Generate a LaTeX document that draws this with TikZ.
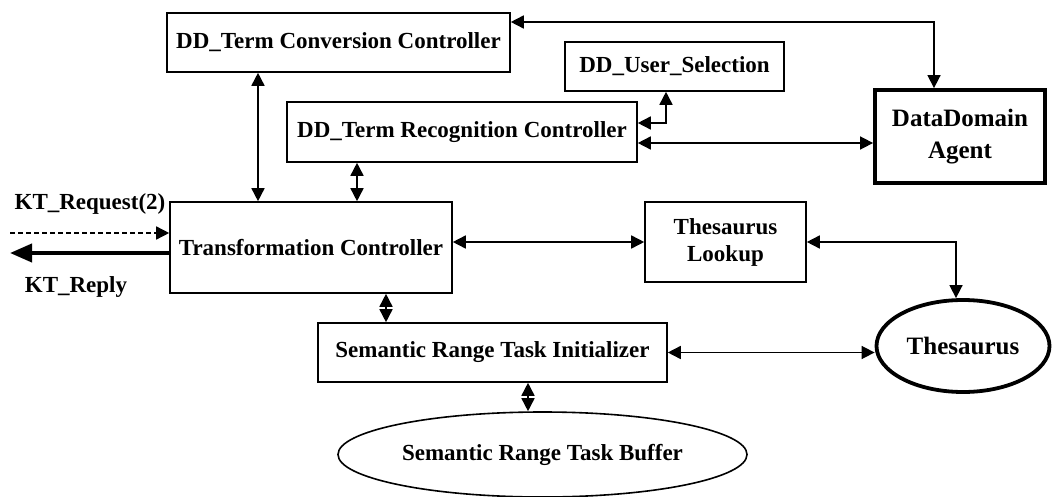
\documentclass[tikz,border=0pt]{standalone}
\usepackage{fontspec}
\setmainfont{Liberation Serif}
\usetikzlibrary{positioning,arrows.meta,shapes.geometric}
\tikzset{
  blk/.style={rectangle,draw,line width=1.6pt,inner sep=0pt,align=center,font=\bfseries\fontsize{23}{27}\selectfont},
  hblk/.style={blk,line width=3.8pt,font=\bfseries\fontsize{25}{32}\selectfont},
  store/.style={ellipse,draw,line width=1.6pt,inner sep=0pt,font=\bfseries\fontsize{23}{27}\selectfont},
  hstore/.style={store,line width=3.8pt,font=\bfseries\fontsize{25}{30}\selectfont},
  lbl/.style={inner sep=0pt,font=\bfseries\fontsize{23}{27}\selectfont},
  link/.style={{Triangle[length=13pt,width=13pt]}-{Triangle[length=13pt,width=13pt]},line width=1.6pt},
  req/.style={-{Triangle[length=13pt,width=13pt]},line width=1.5pt,dash pattern=on 5pt off 3pt},
  reply/.style={-{Triangle[length=22pt,width=18pt]},line width=4pt}
}

\begin{document}
\begin{tikzpicture}[x=1pt,y=-1pt]
\useasboundingbox (0,0) rectangle (1056,497);
\node[blk,minimum width=343pt,minimum height=59pt] (conv) at (338.5,42.5) {DD\_Term Conversion Controller};
\node[blk,minimum width=219pt,minimum height=49pt] (usel) at (674.5,66.5) {DD\_User\_Selection};
\node[blk,minimum width=350pt,minimum height=60pt] (rec) at (462,132) {DD\_Term Recognition Controller};
\node[hblk,minimum width=170pt,minimum height=93pt] (agent) at (960,136.5) {DataDomain\\Agent};
\node[blk,minimum width=282pt,minimum height=91pt] (trans) at (311,247.5) {Transformation Controller};
\node[blk,minimum width=161pt,minimum height=80pt] (look) at (725.5,242) {Thesaurus\\Lookup};
\node[blk,minimum width=349pt,minimum height=59pt] (init) at (492.5,352.5) {Semantic Range Task Initializer};
\node[hstore,minimum width=173pt,minimum height=92pt] (thes) at (963,346) {Thesaurus};
\node[store,minimum width=409pt,minimum height=85pt] (buf) at (542.5,454.5) {Semantic Range Task Buffer};
\node[lbl] (reqlbl) at (90,204) {KT\_Request(2)};
\node[lbl] (replbl) at (76,287) {KT\_Reply};
\coordinate (reqin) at (10,233); \coordinate (repout) at (10,253);
% links between controllers
\draw[link] ([yshift=20.5pt]conv.east) -| ([xshift=-26pt]agent.north);
\draw[link] ([xshift=-80.5pt]conv.south) -- ([xshift=-53pt]trans.north);
\draw[link] ([xshift=-105pt]rec.south) -- ([xshift=46pt]trans.north);
\draw[link] ([yshift=9pt]rec.east) -| ([xshift=-8.5pt]usel.south);
\draw[link] ([yshift=-11pt]rec.east) -- ([yshift=-6.5pt]agent.west);
\draw[link] ([yshift=5.5pt]trans.east) -- (look.west);
\draw[link] (look.east) -| ([xshift=-7pt]thes.north);
\draw[link] ([xshift=75pt]trans.south) -- ([xshift=-106.5pt]init.north);
\draw[link] (init.east) -- (init.east -| thes.west);
\draw[link] ([xshift=35.5pt]init.south) -- ([xshift=-14.5pt]buf.north);
% request and reply
\draw[req] (reqin) -- ([yshift=14.5pt]trans.west);
\draw[reply] ([yshift=-5.5pt]trans.west) -- (repout);
\end{tikzpicture}
\end{document}
